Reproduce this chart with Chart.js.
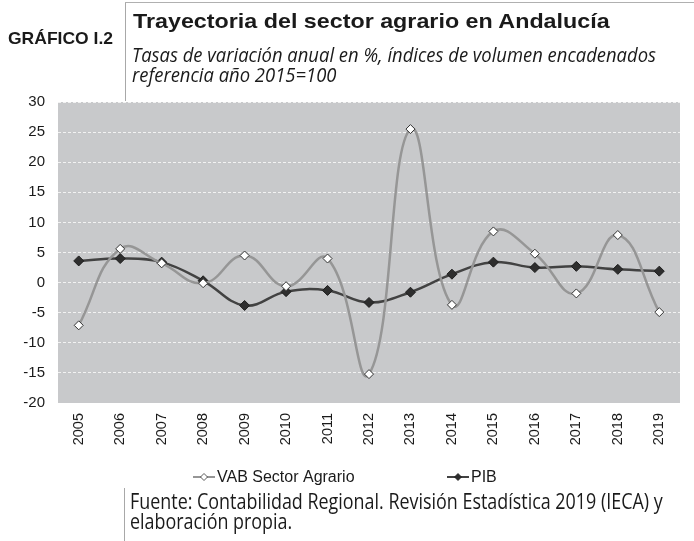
<!DOCTYPE html>
<html>
<head>
<meta charset="utf-8">
<script src="https://cdn.jsdelivr.net/npm/chart.js@4"></script>
<style>
  body { margin: 0; background: #fff; }
  #wrap { position: relative; width: 694px; height: 541px; overflow: hidden; }
  #chart { position: absolute; left: 0; top: 0; }
  .txt { position: absolute; white-space: nowrap; color: #1a1a1a; transform-origin: 0 0; }
  .cond { font-family: "Open Sans", "DejaVu Sans Condensed", sans-serif; }
  .vline { position: absolute; width: 1px; background: #a8a8a8; }
  .hline { position: absolute; height: 1px; background: #b0b0b0; }
</style>
</head>
<body>
<div id="wrap">
  <canvas id="chart" width="694" height="541"></canvas>
  <div class="vline" style="left:125px; top:2px; height:99px;"></div>
  <div class="hline" style="left:125px; top:2px; width:569px;"></div>
  <div class="txt" id="tag" data-w="105" style="left:8px; top:29px; font: bold 17px 'Liberation Sans', Arial, sans-serif;">GRÁFICO I.2</div>
  <div class="txt" id="title" data-w="477" style="left:133px; top:9px; font: bold 20.5px 'Liberation Sans', Arial, sans-serif;">Trayectoria del sector agrario en Andalucía</div>
  <div class="txt cond" id="sub1" data-w="524" style="left:132px; top:44px; font-style:italic; font-size:20.5px; line-height:20px;">Tasas de variación anual en %, índices de volumen encadenados</div>
  <div class="txt cond" id="sub2" data-w="0" style="left:132px; top:64px; font-style:italic; font-size:20.5px; line-height:20px;">referencia año 2015=100</div>
  <div class="vline" style="left:124px; top:488px; height:53px;"></div>
  <div class="txt cond" id="foot1" data-w="533" style="left:130px; top:491px; font-size:21px; line-height:20px;">Fuente: Contabilidad Regional. Revisión Estadística 2019 (IECA) y</div>
  <div class="txt cond" id="foot2" data-w="0" style="left:130px; top:511px; font-size:21px; line-height:20px;">elaboración propia.</div>
</div>
<script>
// Tasas de variación anual (%)
const years = ['2005', '2006', '2007', '2008', '2009', '2010', '2011', '2012', '2013', '2014', '2015', '2016', '2017', '2018', '2019'];
const vabAgrario = [-7.1, 5.6, 3.2, -0.1, 4.5, -0.6, 4.0, -15.2, 25.5, -3.7, 8.5, 4.8, -1.8, 7.9, -4.9];
const pib = [3.6, 4.0, 3.4, 0.3, -3.8, -1.5, -1.3, -3.3, -1.6, 1.4, 3.4, 2.5, 2.7, 2.2, 1.9];
const yTicks = [30, 25, 20, 15, 10, 5, 0, -5, -10, -15, -20];

const plotBg = '#c8c9cb';
const vabColor = '#969696';
const pibColor = '#424242';

// squeeze the heading / source texts to the width they take in the original
function fitTexts() {
    const scales = {};
    ['tag', 'title', 'sub1', 'foot1'].forEach(id => {
        const el = document.getElementById(id);
        const target = parseFloat(el.dataset.w);
        scales[id] = target / el.scrollWidth;
        el.style.transform = `scaleX(${scales[id]})`;
    });
    // second lines share the scale of the first line
    document.getElementById('sub2').style.transform = `scaleX(${scales.sub1})`;
    document.getElementById('foot2').style.transform = `scaleX(${scales.foot1})`;
}
fitTexts();

// grey plot area
const plotBackground = {
    id: 'plotBackground',
    beforeDraw(chart) {
        const { ctx, chartArea } = chart;
        ctx.save();
        ctx.fillStyle = plotBg;
        ctx.fillRect(chartArea.left, chartArea.top, chartArea.right - chartArea.left, chartArea.bottom - chartArea.top);
        ctx.restore();
    }
};

// Excel style legend: short line with the marker in the middle
const lineLegend = {
    id: 'lineLegend',
    afterDraw(chart) {
        const ctx = chart.ctx;
        const items = [
            { x: 193, label: 'VAB Sector Agrario', ds: chart.data.datasets[0] },
            { x: 447, label: 'PIB', ds: chart.data.datasets[1] }
        ];
        const y = 477;
        ctx.save();
        items.forEach(item => {
            ctx.strokeStyle = item.ds.borderColor;
            ctx.lineWidth = 2;
            ctx.beginPath();
            ctx.moveTo(item.x, y);
            ctx.lineTo(item.x + 22, y);
            ctx.stroke();
            const cx = item.x + 11;
            ctx.beginPath();
            ctx.moveTo(cx, y - 3.5);
            ctx.lineTo(cx + 3.5, y);
            ctx.lineTo(cx, y + 3.5);
            ctx.lineTo(cx - 3.5, y);
            ctx.closePath();
            ctx.fillStyle = item.ds.pointBackgroundColor;
            ctx.fill();
            ctx.lineWidth = 0.8;
            ctx.strokeStyle = item.ds.pointBorderColor;
            ctx.stroke();
            ctx.fillStyle = '#1a1a1a';
            ctx.font = '16px "Liberation Sans", Arial, sans-serif';
            ctx.textBaseline = 'middle';
            ctx.fillText(item.label, item.x + 24, y + 1);
        });
        ctx.restore();
    }
};

new Chart(document.getElementById('chart').getContext('2d'), {
    type: 'line',
    data: {
        labels: years,
        datasets: [
            {
                label: 'VAB Sector Agrario',
                data: vabAgrario,
                borderColor: vabColor,
                borderWidth: 2.5,
                tension: 0.45,
                pointStyle: 'rectRot',
                pointRadius: 4.5,
                pointBackgroundColor: '#ffffff',
                pointBorderColor: '#333333',
                pointBorderWidth: 1
            },
            {
                label: 'PIB',
                data: pib,
                borderColor: pibColor,
                borderWidth: 2.5,
                tension: 0.4,
                pointStyle: 'rectRot',
                pointRadius: 5,
                pointBackgroundColor: '#2e2e2e',
                pointBorderColor: '#1e1e1e',
                pointBorderWidth: 1
            }
        ]
    },
    options: {
        responsive: false,
        animation: false,
        layout: { padding: { top: 102, right: 14, left: 0, bottom: 0 } },
        plugins: {
            legend: { display: false },
            tooltip: { enabled: false }
        },
        scales: {
            x: {
                offset: true,
                grid: { display: false, drawTicks: false },
                border: { display: false },
                ticks: {
                    color: '#1a1a1a',
                    font: { family: '"Liberation Sans", Arial, sans-serif', size: 14.5 },
                    maxRotation: 90,
                    minRotation: 90,
                    padding: 10
                },
                afterFit(scale) { scale.height = 138; }
            },
            y: {
                min: -20,
                max: 30,
                afterBuildTicks(scale) { scale.ticks = yTicks.map(v => ({ value: v })); },
                grid: {
                    color: ctx => (ctx.tick && ctx.tick.value === -20) ? 'rgba(0,0,0,0)' : '#f2f2f2',
                    lineWidth: 1,
                    drawTicks: false
                },
                border: { display: false, dash: [3, 2] },
                ticks: {
                    color: '#1a1a1a',
                    font: { family: '"Liberation Sans", Arial, sans-serif', size: 15 },
                    padding: 13
                },
                afterFit(scale) { scale.width = 58; }
            }
        }
    },
    plugins: [plotBackground, lineLegend]
});
</script>
</body>
</html>
